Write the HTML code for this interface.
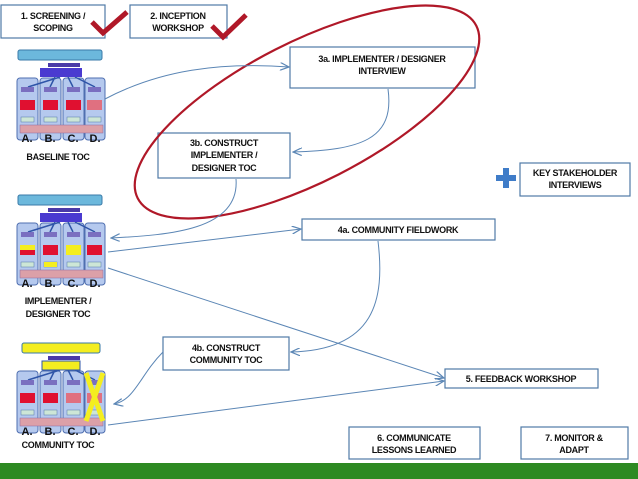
<!DOCTYPE html>
<html><head><meta charset="utf-8"><style>
html,body{margin:0;padding:0;background:#fff;}
svg{display:block;font-family:"Liberation Sans",sans-serif;}
.b{fill:#fff;stroke:#4f7aa6;stroke-width:1.2;}
.t{font-size:9px;font-weight:bold;fill:#111;text-anchor:middle;letter-spacing:-0.3px;}
.a{fill:none;stroke:#5b86b5;stroke-width:1;marker-end:url(#ah);}
.lbl{font-size:9px;font-weight:bold;fill:#111;text-anchor:middle;letter-spacing:-0.3px;}
</style></head><body>
<svg width="638" height="479" viewBox="0 0 638 479" xmlns="http://www.w3.org/2000/svg">
<defs>
<marker id="ah" markerWidth="10" markerHeight="8" refX="9" refY="4" orient="auto" markerUnits="userSpaceOnUse">
<path d="M0,0 L9,4 L0,8" fill="none" stroke="#5b86b5" stroke-width="1.2"/>
</marker>
<g id="cols">
<rect x="17" y="28" width="21" height="62" rx="3" fill="#b5c9ee" stroke="#4f6fb0"/>
<rect x="40" y="28" width="21" height="62" rx="3" fill="#b5c9ee" stroke="#4f6fb0"/>
<rect x="63" y="28" width="21" height="62" rx="3" fill="#b5c9ee" stroke="#4f6fb0"/>
<rect x="85" y="28" width="20" height="62" rx="3" fill="#b5c9ee" stroke="#4f6fb0"/>
<rect x="48" y="13" width="32" height="4" fill="#4a3aa8"/>
<path d="M60,27 L28,37 M55,27 L50,37 M68,27 L73,37 M75,27 L95,37" stroke="#2f55a8" stroke-width="1.5"/>
<rect x="21" y="37" width="13" height="5" fill="#7a6fc0"/><rect x="44" y="37" width="13" height="5" fill="#7a6fc0"/>
<rect x="67" y="37" width="13" height="5" fill="#7a6fc0"/><rect x="88" y="37" width="13" height="5" fill="#7a6fc0"/>
<rect x="21" y="67" width="13" height="5" fill="#cde6d6" stroke="#5577aa" stroke-width=".5"/><rect x="44" y="67" width="13" height="5" fill="#cde6d6" stroke="#5577aa" stroke-width=".5"/>
<rect x="67" y="67" width="13" height="5" fill="#cde6d6" stroke="#5577aa" stroke-width=".5"/><rect x="88" y="67" width="13" height="5" fill="#cde6d6" stroke="#5577aa" stroke-width=".5"/>
<rect x="20" y="75" width="83" height="8" fill="#dca0a8" stroke="#8a6aa0" stroke-width=".5"/>
<text x="27" y="92" font-size="11" font-weight="bold" text-anchor="middle" fill="#111">A.</text>
<text x="50" y="92" font-size="11" font-weight="bold" text-anchor="middle" fill="#111">B.</text>
<text x="73" y="92" font-size="11" font-weight="bold" text-anchor="middle" fill="#111">C.</text>
<text x="95" y="92" font-size="11" font-weight="bold" text-anchor="middle" fill="#111">D.</text>
</g>
</defs>

<g transform="translate(0,50)">
<rect x="18" y="0" width="84" height="10" rx="2" fill="#6cb8dc" stroke="#3a7aa8"/>
<use href="#cols"/>
<rect x="40" y="18" width="42" height="9" fill="#4a3ad0"/>
<rect x="20" y="50" width="15" height="10" fill="#e01030"/><rect x="43" y="50" width="15" height="10" fill="#e01030"/>
<rect x="66" y="50" width="15" height="10" fill="#e01030"/><rect x="87" y="50" width="15" height="10" fill="#e07080"/>
</g>
<text class="lbl" x="58" y="160">BASELINE TOC</text>

<g transform="translate(0,195)">
<rect x="18" y="0" width="84" height="10" rx="2" fill="#6cb8dc" stroke="#3a7aa8"/>
<use href="#cols"/>
<rect x="40" y="18" width="42" height="9" fill="#4a3ad0"/>
<rect x="20" y="50" width="15" height="5" fill="#f4ee20"/><rect x="20" y="55" width="15" height="5" fill="#e01030"/>
<rect x="43" y="50" width="15" height="10" fill="#e01030"/>
<rect x="66" y="50" width="15" height="10" fill="#f4ee20"/><rect x="87" y="50" width="15" height="10" fill="#e01030"/>
<rect x="44" y="67" width="13" height="5" fill="#f4ee20"/>
</g>
<text class="lbl" x="58" y="304">IMPLEMENTER /</text>
<text class="lbl" x="58" y="317">DESIGNER TOC</text>

<g transform="translate(0,343)">
<rect x="22" y="0" width="78" height="10" rx="2" fill="#f4ee20" stroke="#3a7aa8"/>
<use href="#cols"/>
<rect x="42" y="18" width="38" height="9" fill="#f4ee20" stroke="#2f55a8"/>
<rect x="20" y="50" width="15" height="10" fill="#e01030"/><rect x="43" y="50" width="15" height="10" fill="#e01030"/>
<rect x="66" y="50" width="15" height="10" fill="#e07080"/><rect x="87" y="50" width="15" height="10" fill="#e07080"/>
<path d="M86,30 L103,78 M103,30 L86,78" stroke="#f4ee20" stroke-width="5"/>
</g>
<text class="lbl" x="58" y="448">COMMUNITY TOC</text>

<rect class="b" x="1" y="5" width="104" height="33"/>
<text class="t" x="53" y="19">1. SCREENING /</text><text class="t" x="53" y="31">SCOPING</text>
<path d="M92,22 L103,33 L127,12" fill="none" stroke="#b01828" stroke-width="5"/>
<rect class="b" x="130" y="5" width="97" height="33"/>
<text class="t" x="178" y="19">2. INCEPTION</text><text class="t" x="178" y="31">WORKSHOP</text>
<path d="M212,26 L223,37 L246,15" fill="none" stroke="#b01828" stroke-width="5"/>

<rect class="b" x="290" y="47" width="185" height="41"/>
<text class="t" x="382" y="62">3a. IMPLEMENTER / DESIGNER</text><text class="t" x="382" y="74">INTERVIEW</text>
<rect class="b" x="158" y="133" width="132" height="45"/>
<text class="t" x="224" y="146">3b. CONSTRUCT</text><text class="t" x="224" y="158">IMPLEMENTER /</text><text class="t" x="224" y="171">DESIGNER TOC</text>

<ellipse cx="307" cy="112" rx="190" ry="70" transform="rotate(-27 307 112)" fill="none" stroke="#b01828" stroke-width="2.2"/>

<rect class="b" x="520" y="163" width="110" height="33"/>
<text class="t" x="575" y="176">KEY STAKEHOLDER</text><text class="t" x="575" y="188">INTERVIEWS</text>
<path d="M496,175 h7 v-7 h6 v7 h7 v6 h-7 v7 h-6 v-7 h-7z" fill="#3f7cc8"/>

<rect class="b" x="302" y="219" width="193" height="21"/>
<text class="t" x="398" y="233">4a. COMMUNITY FIELDWORK</text>
<rect class="b" x="163" y="337" width="126" height="33"/>
<text class="t" x="226" y="351">4b. CONSTRUCT</text><text class="t" x="226" y="363">COMMUNITY TOC</text>
<rect class="b" x="445" y="369" width="153" height="19"/>
<text class="t" x="521" y="382">5. FEEDBACK WORKSHOP</text>
<rect class="b" x="349" y="427" width="131" height="32"/>
<text class="t" x="414" y="441">6. COMMUNICATE</text><text class="t" x="414" y="453">LESSONS LEARNED</text>
<rect class="b" x="521" y="427" width="107" height="32"/>
<text class="t" x="574" y="441">7. MONITOR &amp;</text><text class="t" x="574" y="453">ADAPT</text>

<path class="a" d="M105,99 C160,70 220,62 289,67"/>
<path class="a" d="M388,89 C395,140 360,150 293,152"/>
<path class="a" d="M236,179 C240,230 170,235 111,238"/>
<path class="a" d="M108,252 L301,229"/>
<path class="a" d="M378,241 C385,300 375,350 291,352"/>
<path class="a" d="M163,352 C140,375 135,400 114,404"/>
<path class="a" d="M108,268 L444,378"/>
<path class="a" d="M108,425 L444,381"/>

<rect x="0" y="463" width="638" height="16" fill="#2e8a22"/>
</svg>
</body></html>
